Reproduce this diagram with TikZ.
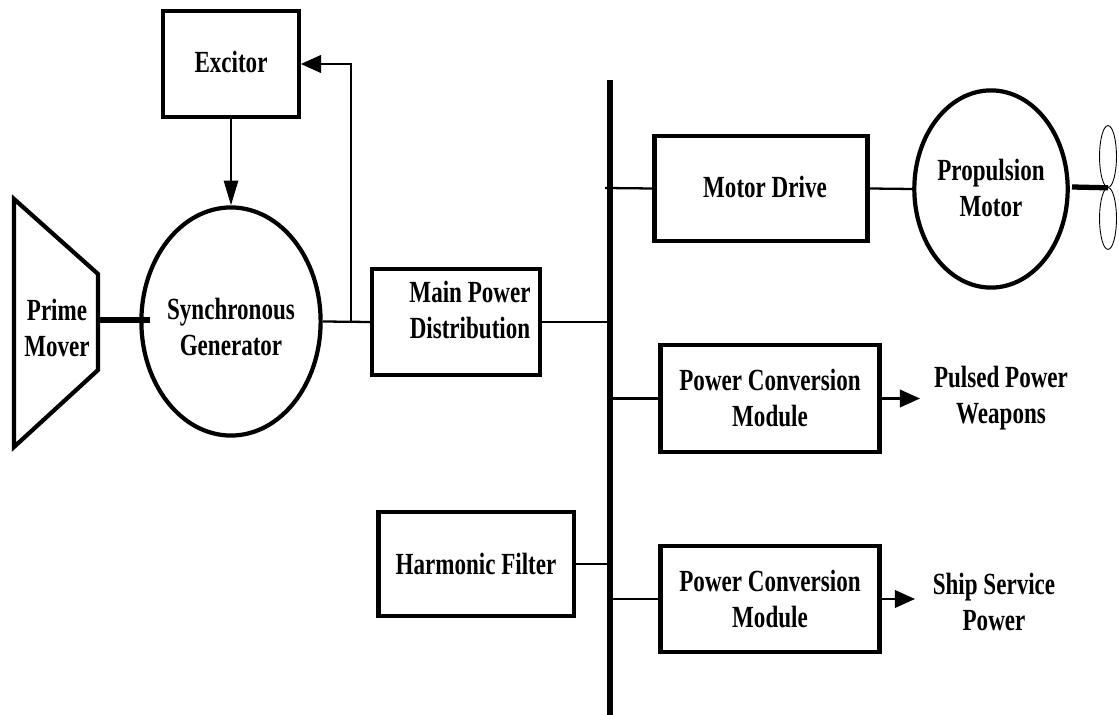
\documentclass[tikz,border=0pt]{standalone}
\usepackage{fontspec}
\setmainfont[FakeStretch=0.75]{Liberation Serif}
\usetikzlibrary{arrows.meta}
\usetikzlibrary{shapes.geometric}
\newlength{\unitpx}
\setlength{\unitpx}{0.5669pt}
\tikzset{
  blockbox/.style={draw,line width=2.4pt,inner sep=0pt,align=center},
  machine/.style={draw,ellipse,line width=2.4pt,inner sep=0pt,align=center},
  blade/.style={draw,ellipse,line width=0.5pt,inner sep=0pt,minimum width=17\unitpx,minimum height=62\unitpx},
  labeltext/.style={align=center,inner sep=0pt},
  thinline/.style={line width=1.3pt},
  shaftline/.style={line width=3pt},
  tiparrow/.style={line width=1.3pt,-{Triangle[length=11.5pt,width=10pt]}},
  longarrow/.style={line width=1.3pt,-{Triangle[length=14pt,width=8pt]}}
}
\begin{document}
\begin{tikzpicture}[x=0.02cm,y=-0.02cm,font=\fontsize{17.5}{20.5}\selectfont\bfseries]
\useasboundingbox (0,0) rectangle (1119,715);
% machines
\draw[line width=2.4pt,line join=miter] (14,199)--(98,274)--(98,370)--(14,447)--cycle;
\node[labeltext] (prime) at (57,328) {Prime\\Mover};
\coordinate (primeshaft) at (96,320);
\node[machine,minimum width=180\unitpx,minimum height=229\unitpx] (gen) at (231,321.5) {};
\node[labeltext] (genlabel) at (231,327) {Synchronous\\Generator};
\node[machine,minimum width=154\unitpx,minimum height=198\unitpx] (motor) at (991,189) {};
\node[labeltext] (motorlabel) at (991,188) {Propulsion\\Motor};
\node[blade] (bladeup) at (1108,156.5) {};
\node[blade] (bladedown) at (1108,218.5) {};
% blocks
\node[blockbox,minimum width=136\unitpx,minimum height=107\unitpx] (excitor) at (231,64) {};
\node[labeltext] (excitorlabel) at (231,62) {Excitor};
\node[blockbox,minimum width=168\unitpx,minimum height=106\unitpx] (mainpower) at (456,322) {};
\node[labeltext] (mainlabel) at (470,310) {Main Power\\Distribution};
\node[blockbox,minimum width=214\unitpx,minimum height=105\unitpx] (drive) at (761,188.5) {};
\node[labeltext] (drivelabel) at (765,187) {Motor Drive};
\node[blockbox,minimum width=220\unitpx,minimum height=107\unitpx] (pcmone) at (770,398.5) {Power Conversion\\Module};
\node[blockbox,minimum width=220\unitpx,minimum height=106\unitpx] (pcmtwo) at (770,599) {Power Conversion\\Module};
\node[blockbox,minimum width=196\unitpx,minimum height=104\unitpx] (filter) at (476,564) {Harmonic Filter};
\node[labeltext] (pulsed) at (1001,398) {Pulsed Power\\Weapons};
\node[labeltext] (ship) at (994,602) {Ship Service\\Power};
% bus
\coordinate (bustop) at (610,80);
\coordinate (busbot) at (610,715);
\draw[line width=3.7pt] (bustop)--(busbot);
% connections
\coordinate (shaftend) at (150,320);
\coordinate (propshaft) at (1072,187);
\coordinate (tap) at (351,322);
\coordinate (tapup) at (351,64);
\coordinate (drivetap) at (605,188);
\draw[shaftline] (primeshaft)--(shaftend);
\draw[shaftline] (propshaft)--(bladeup.south);
\draw[longarrow] (excitor.south)--(gen.north);
\draw[thinline] (gen.east)--(mainpower.west);
\draw[tiparrow] (tap)--(tapup)--(excitor.east);
\draw[thinline] (mainpower.east)--(mainpower.east -| bustop);
\draw[thinline] (drivetap)--(drive.west);
\draw[thinline] (drive.east)--(motor.west);
\draw[thinline] (pcmone.west -| bustop)--(pcmone.west);
\draw[thinline] (pcmtwo.west -| bustop)--(pcmtwo.west);
\draw[thinline] (filter.east)--(filter.east -| bustop);
\coordinate (pulsedtip) at (920,398.5);
\coordinate (shiptip) at (915,599);
\draw[tiparrow] (pcmone.east)--(pulsedtip);
\draw[tiparrow] (pcmtwo.east)--(shiptip);
\end{tikzpicture}
\end{document}
